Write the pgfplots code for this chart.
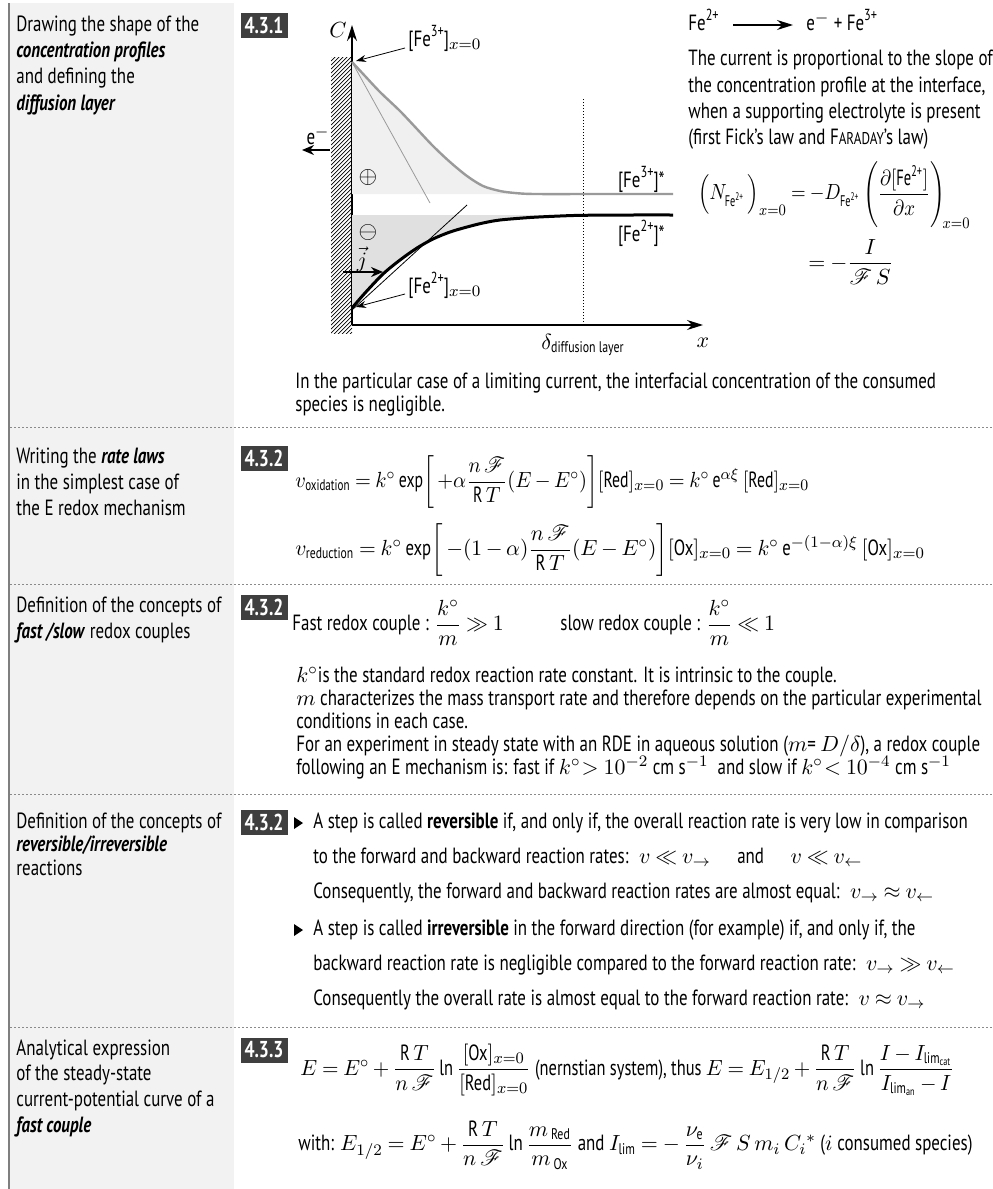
\documentclass[border=0pt]{standalone}
\usepackage{amsmath,amssymb}
\usepackage{mathrsfs}
\usepackage{graphicx}
\usepackage{fontspec}
\setmainfont{PT Sans}[FakeStretch=0.77]
\usepackage{pgfplots}
\pgfplotsset{compat=1.18}
\usetikzlibrary{arrows.meta}
\definecolor{colbg}{HTML}{F2F2F2}
\definecolor{bordc}{HTML}{7F7F7F}
\definecolor{sepc}{HTML}{8A8A8A}
\definecolor{badgec}{HTML}{3F3F3F}
\definecolor{lightf}{HTML}{F0F0F0}
\definecolor{darkf}{HTML}{E0E0E0}
\definecolor{curvegray}{HTML}{9A9A9A}
\newcommand{\F}{\mathscr{F}}
% ion charge in running text / in math
\newcommand{\Fe}[1]{Fe\raisebox{0.85ex}{\fontsize{8pt}{8pt}\selectfont #1}}
\newcommand{\mFe}[1]{\text{Fe}^{\text{#1}}}
\newcommand{\hs}[2]{\scalebox{#1}[1]{#2}}
\begin{document}
\begin{tikzpicture}[x=0.5pt,y=-0.5pt,font=\fontsize{11pt}{13pt}\selectfont,
  tl/.style={anchor=base west,inner sep=0pt},
  eq/.style={anchor=west,inner sep=0pt},
  badge/.style={fill=badgec,text=white,inner sep=0pt,minimum width=23.5pt,minimum height=12.5pt,font=\bfseries\fontsize{11.5pt}{12pt}\selectfont}]
\thickmuskip=4mu plus 2mu \medmuskip=3mu plus 1mu
\useasboundingbox (0,0) rectangle (992,1189);
% left column
\fill[colbg] (8,3) rectangle (234,1189);
\draw[line width=1.1pt,bordc] (9,3) -- (9,1189);
\foreach \yy in {427,584,794,1027}
  \draw[sepc,line width=0.5pt,dash pattern=on 1pt off 1pt] (10,\yy) -- (992,\yy);
% badges
\node[badge] at (264,25.5) {4.3.1};
\node[badge] at (264,458) {4.3.2};
\node[badge] at (264,607) {4.3.2};
\node[badge] at (264,822) {4.3.2};
\node[badge] at (264,1050) {4.3.3};
% left labels
\node[tl] at (16,31) {Drawing the shape of the};
\node[tl] at (16,57) {\textbf{\textit{concentration profiles}}};
\node[tl] at (16,83) {and defining the};
\node[tl] at (16,110) {\textbf{\textit{diffusion layer}}};
\node[tl] at (16,463) {Writing the \textbf{\textit{rate laws}}};
\node[tl] at (16,489) {in the simplest case of};
\node[tl] at (16,515) {the E redox mechanism};
\node[tl] at (16,612) {Definition of the concepts of};
\node[tl] at (16,638) {\textbf{\textit{fast /slow}} redox couples};
\node[tl] at (16,828) {Definition of the concepts of};
\node[tl] at (16,851) {\textbf{\textit{reversible/irreversible}}};
\node[tl] at (16,875) {reactions};
\node[tl] at (16,1055) {Analytical expression};
\node[tl] at (16,1080) {of the steady-state};
\node[tl] at (16,1106) {current-potential curve of a};
\node[tl] at (16,1132) {\textbf{\textit{fast couple}}};
% electrode wall
\begin{scope}
  \clip (331,57) rectangle (352,333);
  \foreach \i in {0,4,...,300} \draw[line width=0.35pt] (331,57+\i) -- (352,36+\i);
\end{scope}
% concentration profiles
\begin{axis}[at={(176pt,-162.5pt)},anchor=south west,scale only axis,
  width=175.5pt,height=150pt,xmin=0,xmax=351,ymin=0,ymax=300,
  axis lines=left,axis line style={line width=0.6pt,-{Stealth[length=8pt,width=5pt]}},
  xtick=\empty,ytick=\empty,clip=false]
\addplot[draw=none,fill=lightf] coordinates {(0,263) (13,249) (28,233) (48,214) (65,196) (81,179) (98,163) (115,149) (131,139) (148,134) (163,132) (183,131) (0,131)} -- cycle;
\addplot[draw=none,fill=darkf] coordinates {(0,17) (13,32) (31,51) (48,65) (65,77) (81,86) (98,93) (115,98) (131,102) (148,105) (178,107.5) (208,109) (231,109.7) (0,110)} -- cycle;
\addplot[curvegray,line width=0.4pt] coordinates {(0,263) (78,122)};
\addplot[black,line width=0.4pt] coordinates {(0,15) (115,120)};
\addplot[densely dotted,line width=0.5pt] coordinates {(231,0) (231,228)};
\addplot[curvegray,line width=1.2pt,smooth] coordinates {(0,263) (13,249) (28,233) (48,214) (65,196) (81,179) (98,163) (115,149) (131,139) (148,134) (163,132) (183,131) (250,131) (321,131)};
\addplot[black,line width=1.5pt,smooth] coordinates {(0,17) (13,32) (31,51) (48,65) (65,77) (81,86) (98,93) (115,98) (131,102) (148,105) (178,107.5) (208,109) (231,109.7) (280,110) (321,110)};
\end{axis}
% chart labels
\node at (338,30) {$C$};
\node at (703,343) {$x$};
\node at (583,345) {$\delta_{\text{diffusion layer}}$};
\node[tl] at (408,46) {[\Fe{3+}]$_{x=0}$};
\draw[line width=0.4pt,-{Stealth[length=5pt,width=3.5pt]}] (405,48) -- (356,61);
\node[tl] at (408,293) {[\Fe{2+}]$_{x=0}$};
\draw[line width=0.4pt,-{Stealth[length=5pt,width=3.5pt]}] (405,294) -- (356,307);
\node[anchor=base east,inner sep=0pt] at (665,187) {[\Fe{3+}]*};
\node[anchor=base east,inner sep=0pt] at (665,241) {[\Fe{2+}]*};
\node[font=\fontsize{12pt}{12pt}\selectfont] at (368,177) {$\oplus$};
\node[font=\fontsize{12pt}{12pt}\selectfont] at (368,232) {$\ominus$};
\node at (318,136) {e$^-$};
\draw[line width=1.2pt,-{Stealth[length=6pt,width=5pt]}] (330,150) -- (302,150);
\node at (362,259) {$\vec{j}$};
\draw[line width=1.2pt,-{Stealth[length=6pt,width=5pt]}] (343,272) -- (383,272);
% right of chart
\node[tl] at (688,30) {\Fe{2+}};
\draw[line width=0.6pt,-{Stealth[length=8pt,width=5pt]}] (733,25) -- (793,25);
\node[tl] at (806,30) {e$^-$ + \Fe{3+}};
\node[tl] at (688,65) {The current is proportional to the slope of};
\node[tl] at (688,92) {the concentration profile at the interface,};
\node[tl] at (688,118) {when a supporting electrolyte is present};
\node[tl] at (688,144) {(first Fick's law and F{\fontsize{8.5pt}{9pt}\selectfont ARADAY}'s law)};
\node[eq] at (698,195) {\hs{0.86}{$\Bigl(N_{\mFe{2+}}\,\Bigr)_{x=0} = -D_{\mFe{2+}}\left(\dfrac{\partial[\mFe{2+}]}{\partial x}\right)_{\!x=0}$}};
\node[eq] at (808,262) {$= -\dfrac{I}{\F\,S}$};
\node[tl] at (295,388) {In the particular case of a limiting current, the interfacial concentration of the consumed};
\node[tl] at (295,411) {species is negligible.};
% row 2
\node[eq] at (295,482) {\hs{0.93}{$v_{\text{oxidation}} = k^\circ\,\text{exp}\!\left[\,+\alpha\dfrac{n\,\F}{\text{R}\,T}(E-E^\circ)\right]\![\text{Red}]_{x=0} = k^\circ\,\text{e}^{\alpha\xi}\,[\text{Red}]_{x=0}$}};
\node[eq] at (295,550) {\hs{0.985}{$v_{\text{reduction}} = k^\circ\,\text{exp}\!\left[\,-(1-\alpha)\dfrac{n\,\F}{\text{R}\,T}(E-E^\circ)\right]\![\text{Ox}]_{x=0} = k^\circ\,\text{e}^{-(1-\alpha)\xi}\,[\text{Ox}]_{x=0}$}};
% row 3
\node[eq] at (292,623) {Fast redox couple : $\dfrac{k^\circ}{m} \gg 1$};
\node[eq] at (560,623) {slow\ redox\ couple : $\dfrac{k^\circ}{m} \ll 1$};
\node[tl] at (296,682) {$k^\circ$is the standard redox reaction rate constant. It is intrinsic to the couple.};
\node[tl] at (296,705) {$m$ characterizes the mass transport rate and therefore depends on the particular experimental};
\node[tl] at (296,728) {conditions in each case.};
\node[tl] at (296,751) {For an experiment in steady state with an RDE in aqueous solution ($m$= $D/\delta$), a redox couple};
\node[tl] at (296,774) {following an E mechanism is: fast if $k^\circ\!> 10^{-2}$ cm s$^{-1}$ \ and slow if $k^\circ\!< 10^{-4}$ cm s$^{-1}$};
% row 4
\fill (294,817) -- (303,823) -- (294,829) -- cycle;
\fill (294,924) -- (303,930) -- (294,936) -- cycle;
\node[tl] at (313,828) {A step is called \textbf{reversible} if, and only if, the overall reaction rate is very low in comparison};
\node[tl] at (313,863) {to the forward and backward reaction rates: \ $v \ll v_{\rightarrow}$ \quad and \quad $v \ll v_{\leftarrow}$};
\node[tl] at (313,898) {Consequently, the forward and backward reaction rates are almost equal: \ $v_{\rightarrow} \approx v_{\leftarrow}$};
\node[tl] at (313,935) {A step is called \textbf{irreversible} in the forward direction (for example) if, and only if, the};
\node[tl] at (313,970) {backward reaction rate is negligible compared to the forward reaction rate: \ $v_{\rightarrow} \gg v_{\leftarrow}$};
\node[tl] at (313,1005) {Consequently the overall rate is almost equal to the forward reaction rate: \ $v \approx v_{\rightarrow}$};
% row 5
\node[eq] at (300,1070) {\hs{0.97}{$E = E^\circ + \dfrac{\text{R}\,T}{n\,\F}\,\text{ln}\,\dfrac{[\text{Ox}]_{x=0}}{[\text{Red}]_{x=0}}$ (nernstian system), thus $E = E_{1/2} + \dfrac{\text{R}\,T}{n\,\F}\,\text{ln}\,\dfrac{I - I_{\text{lim}_{\text{cat}}}}{I_{\text{lim}_{\text{an}}} - I}$}};
\node[eq] at (298,1145) {with: $E_{1/2} = E^\circ + \dfrac{\text{R}\,T}{n\,\F}\,\text{ln}\,\dfrac{m_{\,\text{Red}}}{m_{\,\text{Ox}}}$ and $I_{\text{lim}} = -\,\dfrac{\nu_{\text{e}}}{\nu_i}\,\F\,S\,m_i\,C_i{}^*$ ($i$ consumed species)};
\end{tikzpicture}
\end{document}
